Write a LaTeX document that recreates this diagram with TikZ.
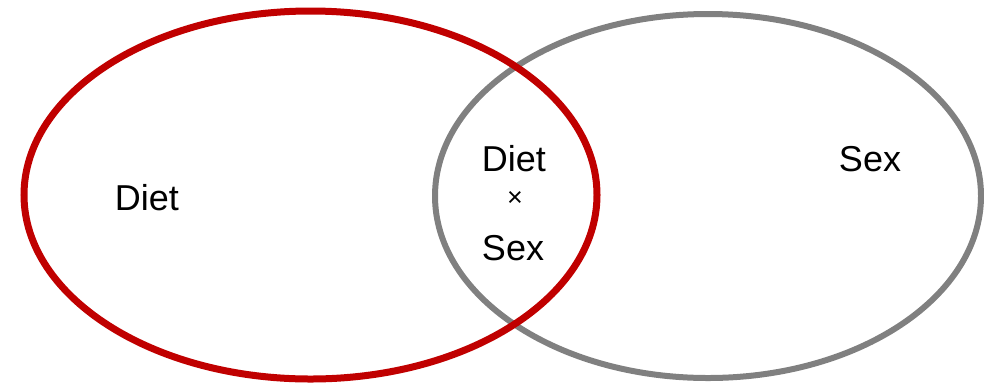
\documentclass[tikz,border=0pt]{standalone}
\usepackage{fontspec}
\setmainfont{Liberation Sans}
\definecolor{dietred}{HTML}{C00000}
\definecolor{sexgray}{HTML}{808080}
\begin{document}
\begin{tikzpicture}[x=1pt,y=-1pt,
  lbl/.style={anchor=base,inner sep=0pt,font=\fontsize{36}{40}\selectfont},
  smalllbl/.style={anchor=center,inner sep=0pt,font=\fontsize{27}{30}\selectfont}]
\useasboundingbox (0,0) rectangle (984,384);
\draw[sexgray,line width=6pt] (708,196) ellipse [x radius=273, y radius=182];
\draw[dietred,line width=7pt] (310.5,195) ellipse [x radius=286.5, y radius=184];
\node[lbl] (diet) at (147,210) {Diet};
\node[lbl] (sex) at (870,171) {Sex};
\node[lbl] (dietc) at (514,171) {Diet};
\node[smalllbl] (times) at (515,199) {×};
\node[lbl] (sexc) at (513,260) {Sex};
\end{tikzpicture}
\end{document}
